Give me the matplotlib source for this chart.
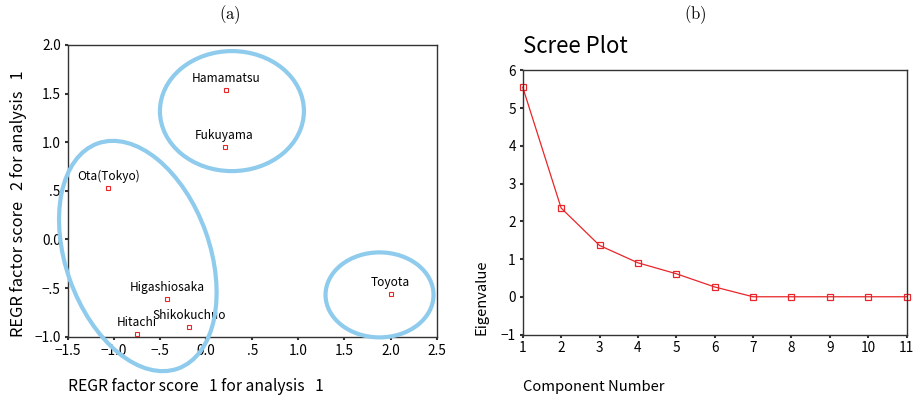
import matplotlib
matplotlib.use("Agg")
import matplotlib.pyplot as plt
from matplotlib.patches import Ellipse
from matplotlib.transforms import ScaledTranslation

plt.rcParams['font.family'] = ['Noto Sans CJK JP', 'DejaVu Sans']
plt.rcParams['mathtext.fontset'] = 'cm'

# ---- data: (a) factor scores ----
cities = ['Hamamatsu', 'Fukuyama', 'Ota(Tokyo)', 'Higashiosaka', 'Shikokuchuo', 'Hitachi', 'Toyota']
score1 = [0.22, 0.20, -1.06, -0.42, -0.18, -0.75, 2.00]
score2 = [1.54, 0.95, 0.53, -0.61, -0.90, -0.97, -0.56]
xticks_a = [-1.5, -1.0, -0.5, 0.0, 0.5, 1.0, 1.5, 2.0, 2.5]
xticklabels_a = ['\u22121.5', '\u22121.0', '\u2212.5', '0.0', '.5', '1.0', '1.5', '2.0', '2.5']
yticks_a = [-1.0, -0.5, 0.0, 0.5, 1.0, 1.5, 2.0]
yticklabels_a = ['\u22121.0', '\u2212.5', '0.0', '.5', '1.0', '1.5', '2.0']

# cluster circles: centre (data), width/height (inches), angle
cluster_centre = [(0.28, 1.32), (-0.74, -0.17), (1.88, -0.57)]
cluster_size = [(1.44, 1.20), (1.44, 2.39), (1.08, 0.85)]
cluster_angle = [0, 19.6, 0]

# ---- data: (b) scree plot ----
components = [1, 2, 3, 4, 5, 6, 7, 8, 9, 10, 11]
eigenvalues = [5.55, 2.35, 1.36, 0.90, 0.61, 0.26, 0.0, 0.0, 0.0, 0.0, 0.0]

fig = plt.figure(figsize=(9.15, 3.98), dpi=100)
spine_col = '#333333'

# ********************* (a) *********************
ax1 = fig.add_axes([0.074, 0.154, 0.4033, 0.733])
ax1.plot(score1, score2, 's', ms=3.2, mfc='white', mec='#e8262a', mew=0.8, zorder=3)
for name, x, y in zip(cities, score1, score2):
    ax1.annotate(name, (x, y), xytext=(0, 8), textcoords='offset points',
                 ha='center', va='center', fontsize=8.6, zorder=2)

for (cx, cy), (w, h), ang in zip(cluster_centre, cluster_size, cluster_angle):
    tr = fig.dpi_scale_trans + ScaledTranslation(cx, cy, ax1.transData)
    e = Ellipse((0, 0), w, h, angle=ang, transform=tr, fill=False,
                ec='#8ecbec', lw=3.0, clip_on=False, zorder=4)
    ax1.add_patch(e)

ax1.set_xlim(-1.5, 2.5)
ax1.set_ylim(-1.0, 2.0)
ax1.set_xticks(xticks_a)
ax1.set_xticklabels(xticklabels_a)
ax1.set_yticks(yticks_a)
ax1.set_yticklabels(yticklabels_a)

# ********************* (b) *********************
ax2 = fig.add_axes([0.5713, 0.1595, 0.4195, 0.664])
ax2.plot(components, eigenvalues, '-s', color='#e8262a', lw=0.9, ms=5,
         mfc='none', mec='#e8262a', mew=0.9, clip_on=False)
ax2.set_xlim(1, 11)
ax2.set_ylim(-1, 6)
ax2.set_xticks(components)
ax2.set_yticks([-1, 0, 1, 2, 3, 4, 5, 6])

for ax in (ax1, ax2):
    for s in ax.spines.values():
        s.set_color(spine_col)
        s.set_linewidth(1.0)
    ax.tick_params(direction='out', length=2, width=1.5, color=spine_col,
                   labelsize=9.8, pad=3)

# ---- text ----
fig.text(0.2514, 0.962, r'$\mathrm{(a)}$', ha='center', va='center', fontsize=12)
fig.text(0.7603, 0.962, r'$\mathrm{(b)}$', ha='center', va='center', fontsize=12)
fig.text(0.5716, 0.882, 'Scree Plot', ha='left', va='center', fontsize=16)

fig.text(0.0743, 0.028, 'REGR factor score   1 for analysis   1', ha='left', va='center', fontsize=11.3)
fig.text(0.0197, 0.153, 'REGR factor score   2 for analysis   1', rotation=90,
         ha='center', va='bottom', fontsize=11.8)
fig.text(0.5716, 0.028, 'Component Number', ha='left', va='center', fontsize=10.6)
fig.text(0.5264, 0.158, 'Eigenvalue', rotation=90, ha='center', va='bottom', fontsize=10.6)

fig.savefig('out.png', dpi=100)
